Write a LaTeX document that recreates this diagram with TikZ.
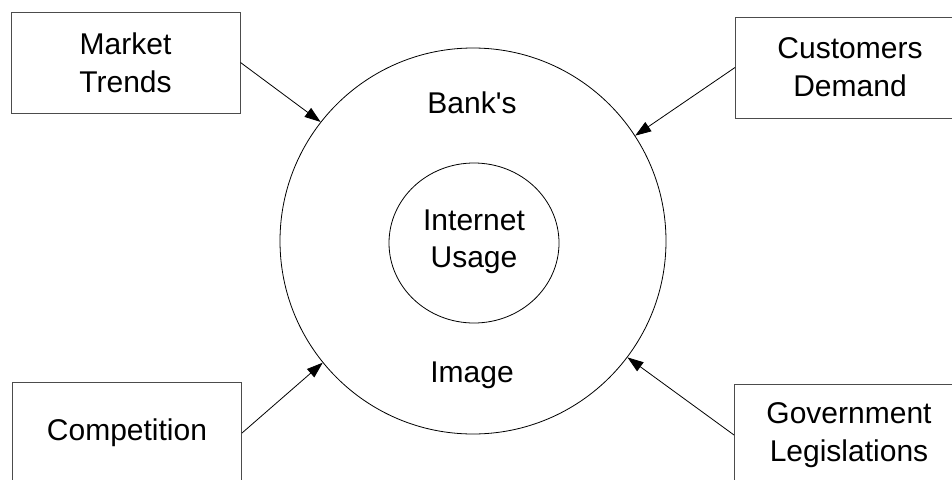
\documentclass[tikz,border=0pt]{standalone}
\usepackage{fontspec}
\newfontfamily\plainsans{Liberation Sans}
\usetikzlibrary{shapes.geometric,arrows.meta}
\begin{document}
\begin{tikzpicture}[x=1pt,y=-1pt,
  factor/.style={draw=black!70,line width=1pt,minimum width=229pt,minimum height=101pt,
    inner sep=0pt,align=center,font=\plainsans\fontsize{30}{38}\selectfont},
  ring/.style={draw=black,line width=0.8pt,circle,inner sep=0pt},
  ctext/.style={inner sep=0pt,align=center,font=\plainsans\fontsize{30}{37}\selectfont},
  push/.style={line width=0.8pt,-{Triangle[length=16pt,width=11pt]}}]
\useasboundingbox (0,0) rectangle (952,479);
\clip (0,0) rectangle (952,479);
% outer and inner circles
\node[ring,minimum size=386pt] (outer) at (473,241) {};
\node[draw=black,line width=0.8pt,ellipse,inner sep=0pt,minimum width=170pt,minimum height=160pt] (inner) at (474,243) {};
\node[ctext] (usage) at (474,242) {Internet\\Usage};
\node[ctext] (bank) at (472,103) {Bank\textquotesingle s};
\node[ctext] (image) at (472,375) {Image};
% factor boxes
\node[factor] (market) at (125.5,62.5) {Market\\Trends};
\node[factor] (customers) at (850,67.5) {Customers\\Demand};
\node[factor] (competition) at (127,433) {Competition};
\node[factor] (government) at (849,435) {Government\\Legislations};
% arrows
\draw[push] (market.east) -- (outer.142.4);
\draw[push] (customers.west) -- (outer.33.5);
\draw[push] (competition.east) -- (outer.219.8);
\draw[push] (government.west) -- (outer.323.3);
\end{tikzpicture}
\end{document}
